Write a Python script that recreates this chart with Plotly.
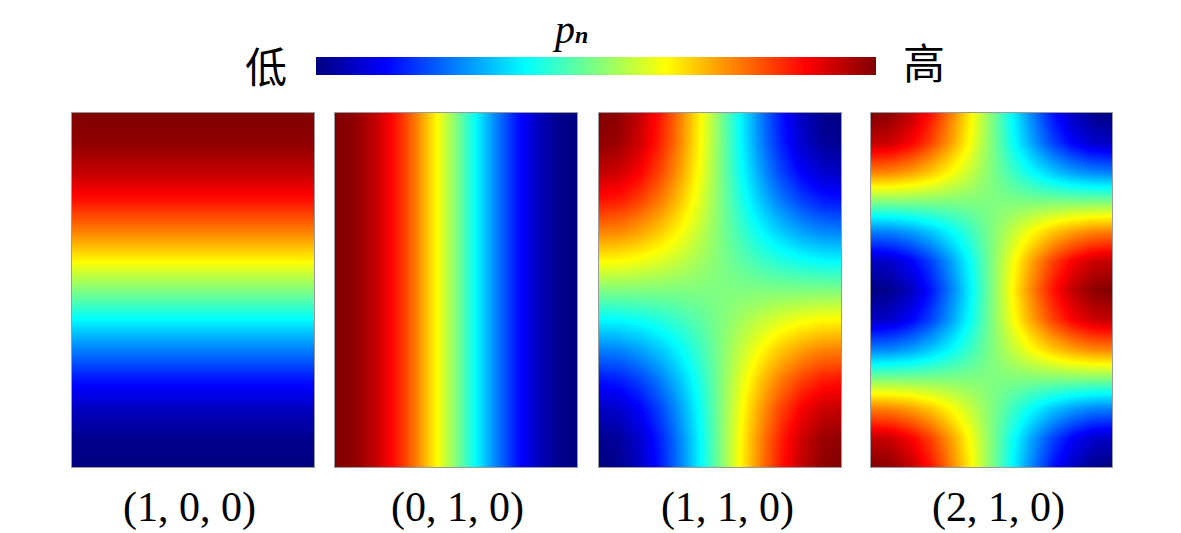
import plotly.graph_objects as go

# sampled mode shapes along one wall, read at 13 evenly spaced positions
mode0 = [1, 1, 1, 1, 1, 1, 1, 1, 1, 1, 1, 1, 1]
mode1 = [1, 0.97, 0.87, 0.71, 0.5, 0.26, 0, -0.26, -0.5, -0.71, -0.87, -0.97, -1]
mode2 = [1, 0.87, 0.5, 0, -0.5, -0.87, -1, -0.87, -0.5, 0, 0.5, 0.87, 1]

labels = ["(1, 0, 0)", "(0, 1, 0)", "(1, 1, 0)", "(2, 1, 0)"]
# (row profile top->bottom, column profile left->right)
profiles = [(mode1, mode0), (mode0, mode1), (mode1, mode1), (mode2, mode1)]

jet = [[0, "rgb(0,0,128)"], [0.125, "rgb(0,0,255)"], [0.375, "rgb(0,255,255)"],
       [0.625, "rgb(255,255,0)"], [0.875, "rgb(255,0,0)"], [1, "rgb(128,0,0)"]]

# page body has an 8px margin, so the figure starts at (8, 8)
OFF = 8
W, H = 1181 - OFF, 533 - OFF


def px(x):
    return (x - OFF) / W


def py(y):
    return 1 - (y - OFF) / H


panels_px = [(72, 314), (335, 577), (599, 841), (871, 1112)]
top_px, bot_px = 113, 467

fig = go.Figure()
for i, (rows, cols) in enumerate(profiles):
    z = [[r * c for c in cols] for r in rows]
    n = "" if i == 0 else str(i + 1)
    fig.add_trace(go.Heatmap(
        z=z, zsmooth="best", colorscale=jet, zmin=-1, zmax=1,
        xaxis="x" + n, yaxis="y" + n,
        showscale=(i == 0),
        colorbar=dict(orientation="h", lenmode="pixels", len=560, thickness=18,
                      x=px(596), xanchor="center", y=py(57), yanchor="top",
                      xpad=0, ypad=0, outlinewidth=0, showticklabels=False, ticks=""),
    ))
    ax = dict(domain=[px(panels_px[i][0]), px(panels_px[i][1])], range=[0, 12],
              showticklabels=False, showgrid=False, zeroline=False, ticks="",
              showline=True, mirror=True, linecolor="#9a9a9a", linewidth=1,
              anchor="y" + n)
    ay = dict(domain=[py(bot_px), py(top_px)], range=[12, 0],
              showticklabels=False, showgrid=False, zeroline=False, ticks="",
              showline=True, mirror=True, linecolor="#9a9a9a", linewidth=1,
              anchor="x" + n)
    fig.layout["xaxis" + n] = ax
    fig.layout["yaxis" + n] = ay

label_x = [190, 457, 727, 998]
annots = []
for lx, txt in zip(label_x, labels):
    annots.append(dict(text=txt, x=px(lx), y=0, xref="paper", yref="paper",
                       showarrow=False, xanchor="center", yanchor="bottom",
                       font=dict(family="Liberation Serif", size=42, color="black")))
annots.append(dict(text="低", x=px(266), y=py(64), xref="paper", yref="paper",
                   showarrow=False, xanchor="center", yanchor="middle",
                   font=dict(family="Noto Sans CJK SC", size=42, color="black")))
annots.append(dict(text="高", x=px(924), y=py(61), xref="paper", yref="paper",
                   showarrow=False, xanchor="center", yanchor="middle",
                   font=dict(family="Noto Sans CJK SC", size=42, color="black")))
annots.append(dict(text="<i>p</i><b><i><span style='font-size:24px'>n</span></i></b>",
                   x=px(570), y=py(30), xref="paper", yref="paper",
                   showarrow=False, xanchor="center", yanchor="middle",
                   font=dict(family="Liberation Serif", size=40, color="black")))

fig.update_layout(width=W, height=H, margin=dict(l=0, r=0, t=0, b=0),
                  paper_bgcolor="white", plot_bgcolor="white",
                  annotations=annots, showlegend=False)
fig.write_html("out.html")
